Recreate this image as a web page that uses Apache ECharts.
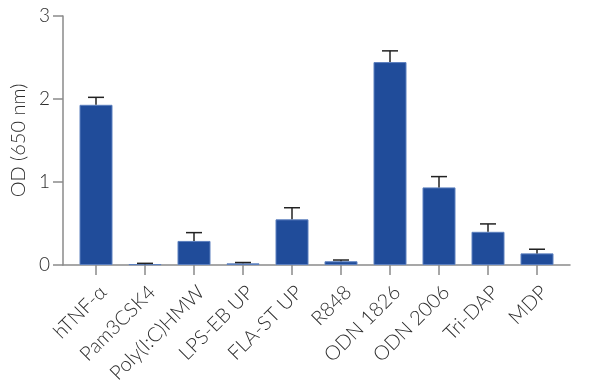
<!DOCTYPE html>
<html><head><meta charset="utf-8">
<script src="https://cdn.jsdelivr.net/npm/echarts@6/dist/echarts.min.js"></script>
<style>html,body{margin:0;padding:0;background:#fff}#c{width:600px;height:386px}</style>
</head><body><div id="c"></div>
<script>
var categories = ['hTNF-α','Pam3CSK4','Poly(I:C)HMW','LPS-EB UP','FLA-ST UP','R848','ODN 1826','ODN 2006','Tri-DAP','MDP'];
var values = [1.93, 0.01, 0.29, 0.02, 0.55, 0.045, 2.445, 0.935, 0.40, 0.14];
var errors = [0.09, 0.01, 0.10, 0.01, 0.14, 0.015, 0.135, 0.13, 0.095, 0.05];
var yTicks = [0, 1, 2, 3];

var FONT = 'Lato';
var chart = echarts.init(document.getElementById('c'));
chart.setOption({
  animation: false,
  grid: [
    {left: 63, right: 30, top: 16, bottom: 121},
    {left: 71.5, right: 38.5, top: 16, bottom: 121}
  ],
  xAxis: [
    {gridIndex: 0, type: 'value', min: 0, max: 1, axisLine: {show: true, lineStyle: {color: '#8a8a8a', width: 1.5}},
     axisTick: {show: false}, axisLabel: {show: false}, splitLine: {show: false}},
    {gridIndex: 1, type: 'category', data: categories,
     axisLine: {show: false},
     axisTick: {show: true, alignWithLabel: true, length: 10, lineStyle: {color: '#8a8a8a', width: 1.5}},
     axisLabel: {rotate: 45, margin: 17, verticalAlign: 'top', fontFamily: FONT, fontWeight: 300, fontSize: 20, color: '#2e2e2e', interval: 0},
     splitLine: {show: false}}
  ],
  yAxis: [
    {gridIndex: 0, type: 'value', min: 0, max: 3, interval: 1,
     name: 'OD (650 nm)', nameLocation: 'middle', nameGap: 32,
     nameTextStyle: {fontFamily: FONT, fontWeight: 300, fontSize: 20, color: '#2e2e2e'},
     axisLine: {show: true, lineStyle: {color: '#8a8a8a', width: 1.5}},
     axisTick: {show: true, length: 10, lineStyle: {color: '#8a8a8a', width: 1.5}},
     axisLabel: {fontFamily: FONT, fontWeight: 300, fontSize: 19, color: '#2e2e2e', margin: 13,
       formatter: function(v){ return yTicks.indexOf(v) >= 0 ? String(v) : ''; }},
     splitLine: {show: false}},
    {gridIndex: 1, type: 'value', min: 0, max: 3, interval: 1, show: false, splitLine: {show: false}}
  ],
  series: [
    {type: 'bar', xAxisIndex: 1, yAxisIndex: 1, data: values, barWidth: 33,
     itemStyle: {color: '#204c9a', borderColor: '#5d80bf', borderWidth: 1}, z: 2},
    {type: 'custom', xAxisIndex: 1, yAxisIndex: 1, z: 3,
     data: values.map(function(v, i){ return [i, v, v + errors[i]]; }),
     renderItem: function(params, api){
       var p0 = api.coord([api.value(0), api.value(1)]);
       var p1 = api.coord([api.value(0), api.value(2)]);
       var hw = 8;
       var st = {stroke: '#222', lineWidth: 1.5, fill: null};
       return {type: 'group', children: [
         {type: 'line', shape: {x1: p0[0], y1: p0[1], x2: p1[0], y2: p1[1]}, style: st},
         {type: 'line', shape: {x1: p1[0]-hw, y1: p1[1], x2: p1[0]+hw, y2: p1[1]}, style: st}
       ]};
     }}
  ]
});
</script></body></html>
